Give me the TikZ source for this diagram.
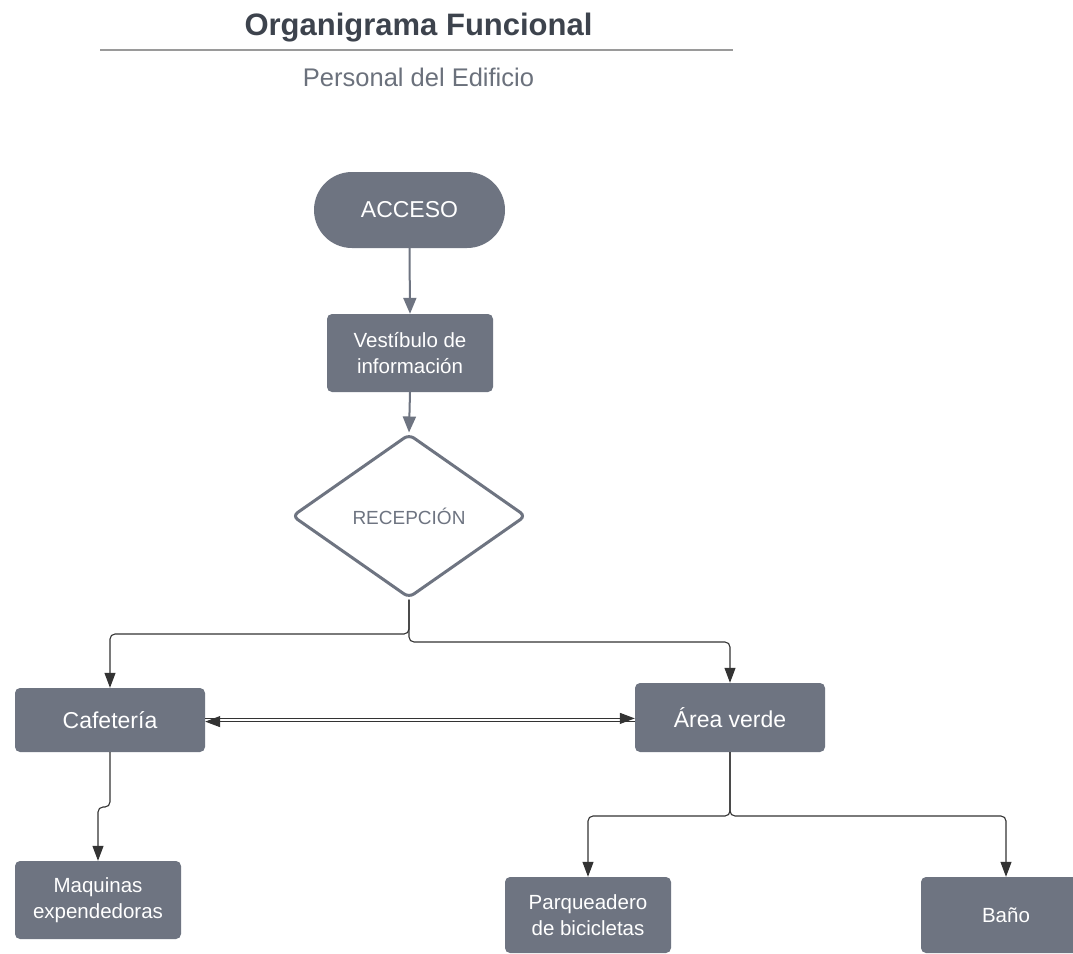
\documentclass[tikz,border=0pt]{standalone}
\usepackage{fontspec}
\setmainfont{Liberation Sans}
\usetikzlibrary{arrows.meta,shapes.geometric,calc}
\definecolor{boxgray}{HTML}{6E7481}
\definecolor{titlegray}{HTML}{3D434D}
\definecolor{subgray}{HTML}{6B717C}
\definecolor{rulegray}{HTML}{9A9A9A}
\definecolor{conndark}{HTML}{333333}
\tikzset{
  box/.style={rectangle, rounded corners=5pt, fill=boxgray, text=white, align=center, inner sep=0pt},
  bigtxt/.style={font=\fontsize{23}{28}\selectfont},
  smalltxt/.style={font=\fontsize{20.5}{26}\selectfont},
  grayarrow/.style={draw=boxgray, line width=2pt, -{Triangle[length=16pt,width=13pt]}},
  conn/.style={draw=conndark, line width=1.1pt, rounded corners=5pt, -{Triangle[length=15pt,width=11pt]}},
}
\begin{document}
\begin{tikzpicture}[x=1pt,y=-1pt]
\useasboundingbox (0,0) rectangle (1073,953);
\clip (0,0) rectangle (1073,953);
\fill[white] (0,0) rectangle (1073,953);
% title
\node[text=titlegray, font=\fontsize{31}{36}\selectfont\bfseries] (title) at (418.5,28) {Organigrama Funcional};
\coordinate (rl) at (100,50);
\coordinate (rr) at (733,50);
\draw[rulegray, line width=2pt] (rl) -- (rr);
\node[text=subgray, font=\fontsize{25.5}{30}\selectfont] (sub) at (418.5,77) {Personal del Edificio};
% nodes
\node[box, rounded corners=38pt, minimum width=191pt, minimum height=76pt, bigtxt] (acc) at (409.5,210) {ACCESO};
\node[box, minimum width=166pt, minimum height=78pt, smalltxt] (vest) at (410,353) {Vestíbulo de\\información};
\node[diamond, draw=boxgray, line width=3pt, fill=white, rounded corners=6pt, aspect=1.43,
      minimum width=234pt, minimum height=164pt, inner sep=0pt, text=boxgray,
      font=\fontsize{19}{23}\selectfont] (rec) at (409,516) {RECEPCIÓN};
\node[box, minimum width=190pt, minimum height=64pt, bigtxt] (caf) at (110,720) {Cafetería};
\node[box, minimum width=190pt, minimum height=69pt, bigtxt] (av) at (730,717.5) {Área verde};
\node[box, minimum width=166pt, minimum height=78pt, smalltxt] (maq) at (98,900) {Maquinas\\expendedoras};
\node[box, minimum width=166pt, minimum height=76pt, smalltxt] (parq) at (588,915) {Parqueadero\\de bicicletas};
\node[box, minimum width=170pt, minimum height=76pt, smalltxt] (bano) at (1006,915) {Baño};
% connectors
\draw[grayarrow] (acc.south) -- (vest.north);
\draw[grayarrow] (vest.south) -- (rec.north);
\coordinate (jl) at (409,634);
\coordinate (jr) at (409,642);
\draw[conn] (rec.south) -- (rec.south |- jl) -| (caf.north);
\draw[conn] (rec.south) -- (rec.south |- jr) -| (av.north);
\draw[conn] ([yshift=1.6pt]caf.east) -- ([yshift=1.6pt]caf.east -| av.west);
\draw[conn] ([yshift=-1.6pt]caf.east -| av.west) -- ([yshift=-1.6pt]caf.east);
\coordinate (jm) at (110,807);
\draw[conn] (caf.south) -- (jm) -| (maq.north);
\coordinate (ja) at (729,816);
\draw[conn] (av.south) -- (av.south |- ja) -| (parq.north);
\draw[conn] (av.south) -- (av.south |- ja) -| (bano.north);
\end{tikzpicture}
\end{document}
